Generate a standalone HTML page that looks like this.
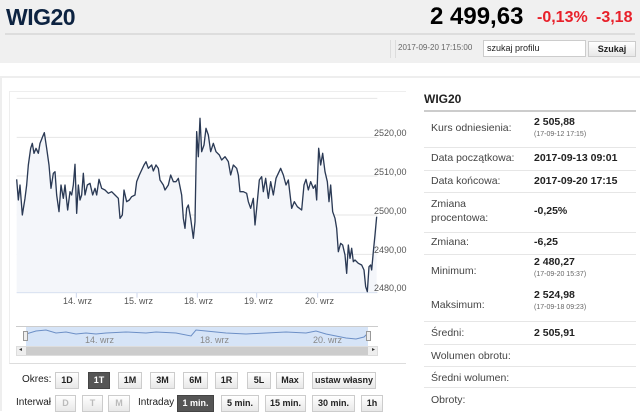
<!DOCTYPE html>
<html><head><meta charset="utf-8"><style>
*{margin:0;padding:0;box-sizing:border-box}
body{width:640px;height:411px;overflow:hidden;background:#fff;font-family:"Liberation Sans",Arial,sans-serif;position:relative}
.a{position:absolute}
.btn{position:absolute;height:17px;border:1px solid #ccc;background:linear-gradient(#fff,#e8e8e8);font-size:9px;color:#222;text-align:center;line-height:15px;font-weight:bold}
.on{background:#555;color:#fff;border-color:#444}
.dis{color:#bbb}
.lbl{position:absolute;left:431px;font-size:10.5px;color:#444}
.val{position:absolute;left:534px;font-size:10.5px;color:#222;font-weight:bold}
.sub{position:absolute;left:534px;font-size:7px;color:#666}
.hr{position:absolute;left:424px;width:212px;height:1px;background:#e6e6e6}
.yl{position:absolute;left:374px;font-size:9px;color:#555}
</style></head><body>
<div class="a" style="left:0;top:0;width:640px;height:63px;background:#f0f0f0"></div>
<div class="a" style="left:6px;top:4px;font-size:23px;color:#0d2341;font-weight:bold;letter-spacing:-0.5px">WIG20</div>
<div class="a" style="left:430px;top:3px;font-size:24px;font-weight:bold;color:#000">2 499,63</div>
<div class="a" style="left:537px;top:9px;font-size:16px;font-weight:bold;color:#e8202a">-0,13%</div>
<div class="a" style="left:596px;top:9px;font-size:16px;font-weight:bold;color:#e8202a">-3,18</div>
<div class="a" style="left:5px;top:33px;width:630px;height:2px;background:#ddd"></div>
<div class="a" style="left:398px;top:43px;font-size:8px;color:#666">2017-09-20 17:15:00</div>
<div class="a" style="left:390px;top:40px;width:1px;height:18px;background:#ddd"></div>
<div class="a" style="left:395px;top:40px;width:1px;height:18px;background:#ddd"></div>
<div class="a" style="left:483px;top:40px;width:103px;height:17px;background:#fff;border:1px solid #ccc;font-size:9px;padding:2px 3px;color:#222">szukaj profilu</div>
<div class="btn" style="left:588px;top:41px;width:48px;height:16px">Szukaj</div>
<div class="a" style="left:0;top:76px;width:640px;height:335px;border-top:2px solid #eee;border-left:2px solid #eee"></div>
<div class="a" style="left:9px;top:91px;width:397px;height:273px;border-top:1px solid #eee;border-left:1px solid #eee;border-bottom:1px solid #ddd"></div>
<svg class="a" style="left:0;top:85px" width="410" height="225" viewBox="0 0 1230 675" preserveAspectRatio="none">
<g stroke="#e6e6e6" stroke-width="3"><line x1="50" y1="40" x2="1132" y2="40"/><line x1="50" y1="157" x2="1132" y2="157"/><line x1="50" y1="273" x2="1132" y2="273"/><line x1="50" y1="390" x2="1132" y2="390"/><line x1="50" y1="508" x2="1132" y2="508"/></g>
<line x1="50" y1="623" x2="1132" y2="623" stroke="#ccd6eb" stroke-width="3"/>
<g stroke="#ccd6eb" stroke-width="3"><line x1="229" y1="623" x2="229" y2="638"/><line x1="411" y1="623" x2="411" y2="638"/><line x1="592" y1="623" x2="592" y2="638"/><line x1="770" y1="623" x2="770" y2="638"/><line x1="953" y1="623" x2="953" y2="638"/></g>
<polygon fill="#f4f6fa" points="50,622 50,283 55,345 60,300 67,390 75,340 80,300 85,240 92,190 97,175 102,205 108,190 115,205 120,175 128,155 133,143 140,190 147,240 153,310 160,265 165,260 170,330 177,380 183,300 190,340 195,300 203,375 210,320 215,330 220,300 225,238 230,385 235,300 240,345 245,330 250,265 255,330 262,300 270,295 278,330 285,310 290,330 297,283 305,310 315,315 325,325 335,320 345,330 355,340 360,400 367,390 372,315 380,350 388,345 395,335 405,330 410,290 418,270 425,255 432,240 438,230 445,250 455,240 460,258 468,240 475,250 480,285 490,300 495,315 505,300 512,270 520,290 528,290 535,280 545,330 550,400 555,430 560,370 565,360 572,400 580,460 585,410 590,140 595,215 600,100 605,200 612,180 618,130 625,150 632,200 640,175 648,200 658,210 665,225 675,215 685,230 692,270 700,240 710,250 715,270 720,320 730,320 740,325 745,350 752,370 760,340 765,420 770,370 778,285 785,275 790,320 797,280 805,340 812,290 820,330 828,280 835,265 842,250 850,270 858,300 865,285 875,370 883,350 892,365 905,375 912,300 918,283 925,315 932,290 940,310 946,300 950,345 956,190 962,240 968,205 975,260 982,290 987,350 992,300 998,380 1005,400 1010,430 1015,500 1022,475 1028,480 1035,510 1040,565 1045,480 1050,520 1055,490 1060,530 1065,525 1075,535 1085,540 1092,555 1097,605 1102,620 1107,545 1112,540 1115,555 1120,500 1125,450 1130,395 1130,622"/>
<polyline fill="none" stroke="#2b3a55" stroke-width="4" stroke-linejoin="round" points="50,283 55,345 60,300 67,390 75,340 80,300 85,240 92,190 97,175 102,205 108,190 115,205 120,175 128,155 133,143 140,190 147,240 153,310 160,265 165,260 170,330 177,380 183,300 190,340 195,300 203,375 210,320 215,330 220,300 225,238 230,385 235,300 240,345 245,330 250,265 255,330 262,300 270,295 278,330 285,310 290,330 297,283 305,310 315,315 325,325 335,320 345,330 355,340 360,400 367,390 372,315 380,350 388,345 395,335 405,330 410,290 418,270 425,255 432,240 438,230 445,250 455,240 460,258 468,240 475,250 480,285 490,300 495,315 505,300 512,270 520,290 528,290 535,280 545,330 550,400 555,430 560,370 565,360 572,400 580,460 585,410 590,140 595,215 600,100 605,200 612,180 618,130 625,150 632,200 640,175 648,200 658,210 665,225 675,215 685,230 692,270 700,240 710,250 715,270 720,320 730,320 740,325 745,350 752,370 760,340 765,420 770,370 778,285 785,275 790,320 797,280 805,340 812,290 820,330 828,280 835,265 842,250 850,270 858,300 865,285 875,370 883,350 892,365 905,375 912,300 918,283 925,315 932,290 940,310 946,300 950,345 956,190 962,240 968,205 975,260 982,290 987,350 992,300 998,380 1005,400 1010,430 1015,500 1022,475 1028,480 1035,510 1040,565 1045,480 1050,520 1055,490 1060,530 1065,525 1075,535 1085,540 1092,555 1097,605 1102,620 1107,545 1112,540 1115,555 1120,500 1125,450 1130,395"/>
</svg>
<div class="yl" style="top:128px">2520,00</div>
<div class="yl" style="top:167px">2510,00</div>
<div class="yl" style="top:206px">2500,00</div>
<div class="yl" style="top:245px">2490,00</div>
<div class="yl" style="top:283px">2480,00</div>
<div class="a" style="left:63px;top:296px;font-size:9px;color:#555">14. wrz</div>
<div class="a" style="left:124px;top:296px;font-size:9px;color:#555">15. wrz</div>
<div class="a" style="left:184px;top:296px;font-size:9px;color:#555">18. wrz</div>
<div class="a" style="left:244px;top:296px;font-size:9px;color:#555">19. wrz</div>
<div class="a" style="left:305px;top:296px;font-size:9px;color:#555">20. wrz</div>
<!-- navigator -->
<div class="a" style="left:16px;top:326px;width:362px;height:1px;background:#ccc"></div>
<div class="a" style="left:26px;top:327px;width:342px;height:19px;background:#d6e4f7"></div>
<svg class="a" style="left:26px;top:327px" width="342" height="19" viewBox="0 0 342 19" preserveAspectRatio="none"><polyline fill="none" stroke="#6c8fc6" stroke-width="1" points="0,7 10,4 20,3 30,6 40,5 50,7 60,6 70,7 80,6 100,5 120,6 130,5 150,6 165,9 170,3 180,4 200,6 220,7 240,6 260,5 280,6 290,4 300,7 310,9 320,11 330,12 338,10 342,6"/></svg>
<div class="a" style="left:23px;top:331px;width:5px;height:10px;background:#eee;border:1px solid #999"></div>
<div class="a" style="left:366px;top:331px;width:5px;height:10px;background:#eee;border:1px solid #999"></div>
<div class="a" style="left:85px;top:335px;font-size:9px;color:#888">14. wrz</div>
<div class="a" style="left:200px;top:335px;font-size:9px;color:#888">18. wrz</div>
<div class="a" style="left:313px;top:335px;font-size:9px;color:#888">20. wrz</div>
<div class="a" style="left:16px;top:346px;width:362px;height:10px;background:#eee;border:1px solid #ddd"></div>
<div class="a" style="left:26px;top:347px;width:342px;height:8px;background:#ccc"></div>
<div class="a" style="left:19px;top:346px;font-size:6px;color:#333">◂</div>
<div class="a" style="left:372px;top:346px;font-size:6px;color:#333">▸</div>
<!-- buttons -->
<div class="a" style="left:22px;top:374px;font-size:10px;color:#222">Okres:</div>
<div class="btn" style="left:55px;top:372px;width:24px">1D</div>
<div class="btn on" style="left:88px;top:372px;width:22px">1T</div>
<div class="btn" style="left:118px;top:372px;width:24px">1M</div>
<div class="btn" style="left:150px;top:372px;width:25px">3M</div>
<div class="btn" style="left:183px;top:372px;width:25px">6M</div>
<div class="btn" style="left:215px;top:372px;width:23px">1R</div>
<div class="btn" style="left:247px;top:372px;width:24px">5L</div>
<div class="btn" style="left:276px;top:372px;width:28px">Max</div>
<div class="btn" style="left:312px;top:372px;width:64px">ustaw własny</div>
<div class="a" style="left:16px;top:397px;font-size:10px;color:#222">Interwał</div>
<div class="btn dis" style="left:55px;top:395px;width:21px">D</div>
<div class="btn dis" style="left:82px;top:395px;width:21px">T</div>
<div class="btn dis" style="left:108px;top:395px;width:22px">M</div>
<div class="a" style="left:138px;top:397px;font-size:10px;color:#222">Intraday</div>
<div class="btn on" style="left:177px;top:395px;width:37px">1 min.</div>
<div class="btn" style="left:221px;top:395px;width:38px">5 min.</div>
<div class="btn" style="left:265px;top:395px;width:41px">15 min.</div>
<div class="btn" style="left:312px;top:395px;width:43px">30 min.</div>
<div class="btn" style="left:361px;top:395px;width:22px">1h</div>
<!-- right panel -->
<div class="a" style="left:424px;top:92px;font-size:12px;font-weight:bold;color:#222">WIG20</div>
<div class="a" style="left:424px;top:110px;width:212px;height:2px;background:#ccc"></div>
<div class="lbl" style="top:122px">Kurs odniesienia:</div>
<div class="val" style="top:116px">2 505,88</div><div class="sub" style="top:131px">(17-09-12 17:15)</div>
<div class="hr" style="top:147px"></div>
<div class="lbl" style="top:152px">Data początkowa:</div><div class="val" style="top:152px">2017-09-13 09:01</div>
<div class="hr" style="top:170px"></div>
<div class="lbl" style="top:175px">Data końcowa:</div><div class="val" style="top:175px">2017-09-20 17:15</div>
<div class="hr" style="top:192px"></div>
<div class="lbl" style="top:197px;line-height:14px">Zmiana<br>procentowa:</div><div class="val" style="top:205px">-0,25%</div>
<div class="hr" style="top:232px"></div>
<div class="lbl" style="top:236px">Zmiana:</div><div class="val" style="top:236px">-6,25</div>
<div class="hr" style="top:254px"></div>
<div class="lbl" style="top:265px">Minimum:</div>
<div class="val" style="top:256px">2 480,27</div><div class="sub" style="top:271px">(17-09-20 15:37)</div>
<div class="lbl" style="top:299px">Maksimum:</div>
<div class="val" style="top:289px">2 524,98</div><div class="sub" style="top:304px">(17-09-18 09:23)</div>
<div class="hr" style="top:321px"></div>
<div class="lbl" style="top:327px">Średni:</div><div class="val" style="top:327px">2 505,91</div>
<div class="hr" style="top:344px"></div>
<div class="lbl" style="top:350px">Wolumen obrotu:</div>
<div class="hr" style="top:366px"></div>
<div class="lbl" style="top:372px">Średni wolumen:</div>
<div class="hr" style="top:387px"></div>
<div class="lbl" style="top:394px">Obroty:</div>
</body></html>
